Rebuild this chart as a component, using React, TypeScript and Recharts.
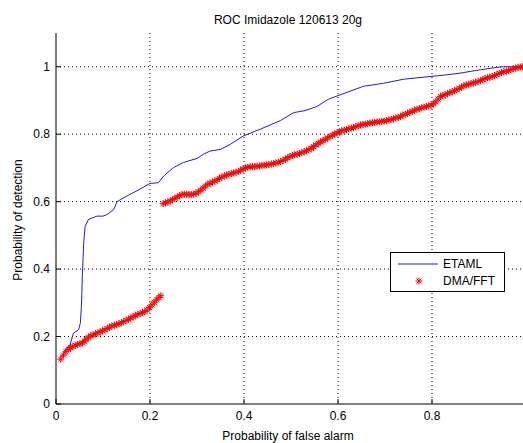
import React from "react";
import {
  ComposedChart,
  Line,
  Scatter,
  XAxis,
  YAxis,
  CartesianGrid,
  Customized,
} from "recharts";

const TITLE = "ROC Imidazole 120613 20g";
const X_LABEL = "Probability of false alarm";
const Y_LABEL = "Probability of detection";
const X_TICKS = [0, 0.2, 0.4, 0.6, 0.8, 1];
const Y_TICKS = [0, 0.2, 0.4, 0.6, 0.8, 1];
const SERIES_NAMES = ["ETAML", "DMA/FFT"];

// ETAML ROC curve (x = Pfa, y = Pd)
const etaml: [number, number][] = [
  [0.009, 0.137], [0.03, 0.176], [0.037, 0.21], [0.048, 0.22], [0.052, 0.241],
  [0.054, 0.29], [0.055, 0.33], [0.056, 0.38], [0.059, 0.478], [0.062, 0.527],
  [0.069, 0.547], [0.087, 0.557], [0.1, 0.557], [0.109, 0.562], [0.123, 0.577],
  [0.13, 0.6], [0.151, 0.617], [0.172, 0.632], [0.2, 0.654], [0.218, 0.656],
  [0.229, 0.676], [0.25, 0.701], [0.271, 0.716], [0.3, 0.728], [0.314, 0.741],
  [0.328, 0.75], [0.35, 0.755], [0.371, 0.77], [0.399, 0.795], [0.435, 0.815],
  [0.477, 0.84], [0.506, 0.864], [0.53, 0.87], [0.555, 0.882], [0.58, 0.904],
  [0.619, 0.924], [0.654, 0.942], [0.697, 0.951], [0.74, 0.963], [0.796, 0.971],
  [0.825, 0.975], [0.86, 0.981], [0.903, 0.991], [0.938, 0.998], [0.952, 1.0],
  [1.0, 1.0],
];

// DMA/FFT markers, low-Pfa segment
const dmaLow: [number, number][] = [
  [0.01, 0.133], [0.016, 0.145], [0.021, 0.155], [0.026, 0.162], [0.031, 0.167],
  [0.036, 0.171], [0.041, 0.174], [0.046, 0.177], [0.051, 0.179], [0.056, 0.181],
  [0.06, 0.186], [0.064, 0.192], [0.069, 0.198], [0.074, 0.202], [0.079, 0.205],
  [0.084, 0.208], [0.089, 0.211], [0.094, 0.214], [0.099, 0.217], [0.104, 0.22],
  [0.109, 0.224], [0.114, 0.228], [0.119, 0.231], [0.124, 0.234], [0.129, 0.236],
  [0.134, 0.238], [0.139, 0.241], [0.144, 0.244], [0.149, 0.248], [0.154, 0.251],
  [0.159, 0.255], [0.164, 0.259], [0.169, 0.263], [0.174, 0.266], [0.179, 0.268],
  [0.184, 0.271], [0.189, 0.274], [0.194, 0.279], [0.199, 0.286], [0.204, 0.294],
  [0.209, 0.302], [0.214, 0.309], [0.219, 0.316], [0.223, 0.321],
];

// DMA/FFT markers, upper segment
const dmaHigh: [number, number][] = [
  [0.228, 0.594], [0.233, 0.596], [0.238, 0.599], [0.243, 0.602], [0.248, 0.606],
  [0.253, 0.61], [0.258, 0.614], [0.263, 0.618], [0.268, 0.621], [0.273, 0.622],
  [0.278, 0.622], [0.283, 0.621], [0.288, 0.621], [0.293, 0.622], [0.298, 0.625],
  [0.303, 0.629], [0.308, 0.634], [0.313, 0.64], [0.318, 0.646], [0.323, 0.652],
  [0.328, 0.655], [0.333, 0.658], [0.338, 0.661], [0.343, 0.665], [0.348, 0.669],
  [0.353, 0.673], [0.358, 0.676], [0.363, 0.679], [0.368, 0.681], [0.373, 0.683],
  [0.378, 0.685], [0.383, 0.687], [0.388, 0.69], [0.393, 0.693], [0.398, 0.697],
  [0.403, 0.7], [0.408, 0.702], [0.413, 0.703], [0.418, 0.704], [0.423, 0.704],
  [0.428, 0.705], [0.433, 0.706], [0.438, 0.707], [0.443, 0.708], [0.448, 0.709],
  [0.453, 0.71], [0.458, 0.712], [0.463, 0.713], [0.468, 0.715], [0.473, 0.717],
  [0.478, 0.719], [0.483, 0.722], [0.488, 0.726], [0.493, 0.73], [0.498, 0.734],
  [0.503, 0.737], [0.508, 0.739], [0.513, 0.741], [0.518, 0.743], [0.523, 0.745],
  [0.528, 0.748], [0.533, 0.751], [0.538, 0.754], [0.543, 0.758], [0.548, 0.763],
  [0.553, 0.768], [0.558, 0.773], [0.563, 0.777], [0.568, 0.781], [0.573, 0.785],
  [0.578, 0.789], [0.583, 0.793], [0.588, 0.797], [0.593, 0.801], [0.598, 0.804],
  [0.603, 0.807], [0.608, 0.81], [0.613, 0.812], [0.618, 0.814], [0.623, 0.816],
  [0.628, 0.818], [0.633, 0.82], [0.638, 0.823], [0.643, 0.825], [0.648, 0.827],
  [0.653, 0.829], [0.658, 0.83], [0.663, 0.831], [0.668, 0.833], [0.673, 0.834],
  [0.678, 0.835], [0.683, 0.836], [0.688, 0.837], [0.693, 0.838], [0.698, 0.839],
  [0.703, 0.84], [0.708, 0.842], [0.713, 0.844], [0.718, 0.846], [0.723, 0.848],
  [0.728, 0.85], [0.733, 0.853], [0.738, 0.856], [0.743, 0.859], [0.748, 0.862],
  [0.753, 0.865], [0.758, 0.868], [0.763, 0.871], [0.768, 0.874], [0.773, 0.876],
  [0.778, 0.878], [0.783, 0.88], [0.788, 0.882], [0.793, 0.884], [0.798, 0.886],
  [0.803, 0.89], [0.808, 0.896], [0.813, 0.904], [0.818, 0.912], [0.823, 0.915],
  [0.828, 0.917], [0.833, 0.92], [0.838, 0.923], [0.843, 0.926], [0.848, 0.929],
  [0.853, 0.932], [0.858, 0.936], [0.863, 0.94], [0.868, 0.944], [0.873, 0.946],
  [0.878, 0.948], [0.883, 0.95], [0.888, 0.952], [0.893, 0.954], [0.898, 0.956],
  [0.903, 0.959], [0.908, 0.962], [0.913, 0.965], [0.918, 0.967], [0.923, 0.969],
  [0.928, 0.971], [0.933, 0.974], [0.938, 0.977], [0.943, 0.98], [0.948, 0.983],
  [0.953, 0.985], [0.958, 0.987], [0.963, 0.989], [0.968, 0.991], [0.973, 0.994],
  [0.978, 0.996], [0.983, 0.998], [0.988, 0.999], [0.993, 1.0], [0.998, 1.002],
];

const toPts = (arr: [number, number][]) => arr.map(([x, y]) => ({ x, y }));

const FONT = "'Liberation Sans', Arial, Helvetica, sans-serif";
const BLUE = "#1f1fc4";
const RED = "#ff0000";

const Asterisk = (props: any) => {
  const { cx, cy } = props;
  if (cx == null || cy == null) return null;
  const r = 3.5;
  const d = r * 0.72;
  return (
    <g stroke={RED} strokeWidth={1}>
      <line x1={cx - r} y1={cy} x2={cx + r} y2={cy} />
      <line x1={cx} y1={cy - r} x2={cx} y2={cy + r} />
      <line x1={cx - d} y1={cy - d} x2={cx + d} y2={cy + d} />
      <line x1={cx - d} y1={cy + d} x2={cx + d} y2={cy - d} />
    </g>
  );
};

const Texts = () => (
  <g fontFamily={FONT} fill="#000">
    <text x={288} y={24} textAnchor="middle" fontSize={12}>
      {TITLE}
    </text>
    <text x={288} y={440} textAnchor="middle" fontSize={12}>
      {X_LABEL}
    </text>
    <text
      x={22}
      y={220}
      textAnchor="middle"
      fontSize={12}
      transform="rotate(-90 22 220)"
    >
      {Y_LABEL}
    </text>
  </g>
);

const LegendBox = () => (
  <div
    style={{
      position: "absolute",
      left: 390,
      top: 252,
      width: 113,
      height: 38,
      border: "1px solid #000",
      background: "#fff",
    }}
  >
    <svg width={113} height={38} style={{ position: "absolute", left: 0, top: 0 }}>
      <line x1={7} y1={11} x2={47} y2={11} stroke={BLUE} strokeWidth={1} />
      <Asterisk cx={28} cy={28} />
      <text x={52} y={15} fontSize={12} fontFamily={FONT}>
        {SERIES_NAMES[0]}
      </text>
      <text x={52} y={32} fontSize={12} fontFamily={FONT}>
        {SERIES_NAMES[1]}
      </text>
    </svg>
  </div>
);

export default function App() {
  return (
    <div
      style={{
        position: "fixed",
        left: 0,
        top: 0,
        width: 523,
        height: 443,
        overflow: "hidden",
        background: "#fff",
      }}
    >
      <ComposedChart
        width={540}
        height={443}
        margin={{ top: 33, right: 14, bottom: 0, left: 0 }}
      >
        <CartesianGrid
          stroke="#000"
          strokeDasharray="1 3"
          horizontalValues={Y_TICKS.slice(1)}
          verticalValues={X_TICKS.slice(1)}
        />
        <XAxis
          type="number"
          dataKey="x"
          domain={[0, 1]}
          ticks={X_TICKS}
          tickFormatter={(v: number) => String(v)}
          allowDataOverflow
          stroke="#000"
          tickSize={-5}
          tickMargin={12}
          height={39}
          tick={{ fill: "#000", fontSize: 12, fontFamily: FONT }}
        />
        <YAxis
          type="number"
          dataKey="y"
          domain={[0, 1.1]}
          ticks={Y_TICKS}
          tickFormatter={(v: number) => String(v)}
          allowDataOverflow
          stroke="#000"
          width={56}
          tickSize={-5}
          tickMargin={11}
          tick={{ fill: "#000", fontSize: 12, fontFamily: FONT }}
        />
        <Line
          data={toPts(etaml)}
          dataKey="y"
          type="linear"
          stroke={BLUE}
          strokeWidth={1}
          dot={false}
          isAnimationActive={false}
          name={SERIES_NAMES[0]}
        />
        <Scatter
          data={toPts(dmaLow)}
          dataKey="y"
          shape={<Asterisk />}
          isAnimationActive={false}
          name={SERIES_NAMES[1]}
        />
        <Scatter
          data={toPts(dmaHigh)}
          dataKey="y"
          shape={<Asterisk />}
          isAnimationActive={false}
          name={SERIES_NAMES[1] + " "}
        />
        <Customized component={Texts} />
      </ComposedChart>
      <LegendBox />
    </div>
  );
}
